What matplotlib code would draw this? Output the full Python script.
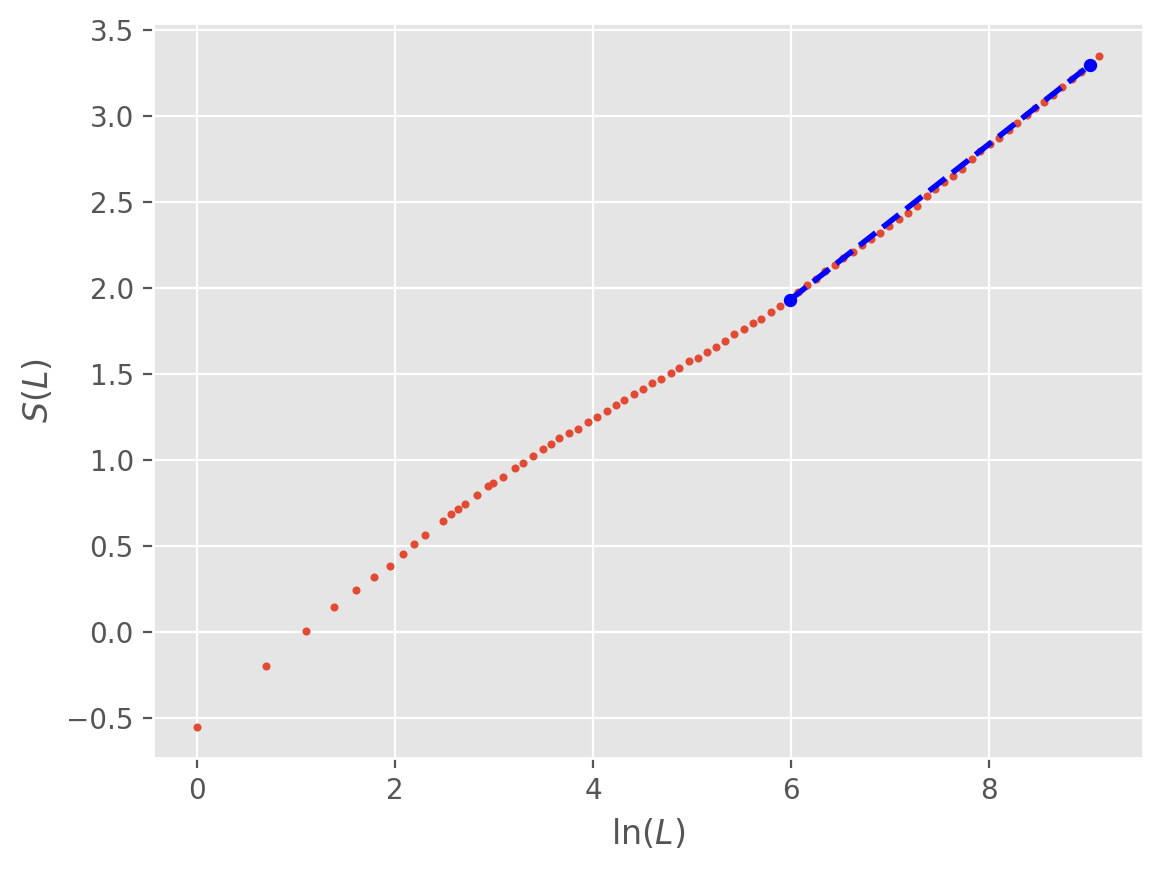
import matplotlib
matplotlib.use("Agg")
import matplotlib.pyplot as plt

# ln(L) values and entanglement entropy S(L)
ln_L = [0.000, 0.693, 1.099, 1.386, 1.609, 1.792, 1.946, 2.079, 2.197, 2.303,
        2.488, 2.569, 2.640, 2.710, 2.831, 2.943, 2.993, 3.094, 3.215, 3.296,
        3.397, 3.498, 3.579, 3.660, 3.761, 3.852, 3.953, 4.044, 4.144, 4.235,
        4.316, 4.417, 4.508, 4.599, 4.690, 4.791, 4.872, 4.973, 5.064, 5.155,
        5.245, 5.336, 5.427, 5.528, 5.619, 5.700, 5.801, 5.892, 5.983, 6.070,
        6.165, 6.250, 6.345, 6.440, 6.530, 6.630, 6.720, 6.805, 6.900, 6.990,
        7.090, 7.180, 7.270, 7.370, 7.460, 7.550, 7.640, 7.730, 7.830, 7.910,
        8.010, 8.100, 8.200, 8.280, 8.380, 8.470, 8.560, 8.650, 8.740, 8.840,
        8.930, 9.020, 9.110]
S_L = [-0.552, -0.200, 0.002, 0.141, 0.240, 0.315, 0.384, 0.454, 0.512, 0.564,
       0.645, 0.686, 0.715, 0.744, 0.796, 0.848, 0.865, 0.900, 0.952, 0.981,
       1.021, 1.062, 1.091, 1.126, 1.155, 1.178, 1.218, 1.247, 1.282, 1.317,
       1.346, 1.380, 1.409, 1.444, 1.467, 1.502, 1.531, 1.572, 1.592, 1.624,
       1.658, 1.693, 1.734, 1.763, 1.797, 1.820, 1.861, 1.896, 1.925, 1.975,
       2.015, 2.052, 2.095, 2.135, 2.172, 2.210, 2.250, 2.286, 2.320, 2.359,
       2.398, 2.432, 2.478, 2.533, 2.575, 2.614, 2.649, 2.689, 2.750, 2.795,
       2.837, 2.870, 2.915, 2.959, 3.002, 3.044, 3.079, 3.121, 3.170, 3.214,
       3.253, 3.288, 3.350]

# linear fit segment endpoints
fit_x = [5.99, 9.02]
fit_y = [1.930, 3.295]

plt.style.use('ggplot')
fig = plt.figure(figsize=(1163 / 200, 873 / 200), dpi=200)
ax = fig.add_axes([153.3 / 1163, 1 - 758 / 873, (1143 - 153.3) / 1163, (758 - 23) / 873])

ax.plot(ln_L, S_L, 'o', color='#E24A33', ms=1.9, linestyle='none')
ax.plot(fit_x, fit_y, 'o--', color='blue', ms=3.8, lw=2.0)

ax.set_xlim(-0.441, 9.556)
ax.set_ylim(-0.735, 3.54)

ax.set_xlabel(r'$\ln(L)$')
ax.set_ylabel(r'$S(L)$')

fig.savefig('out.png', dpi=200)
